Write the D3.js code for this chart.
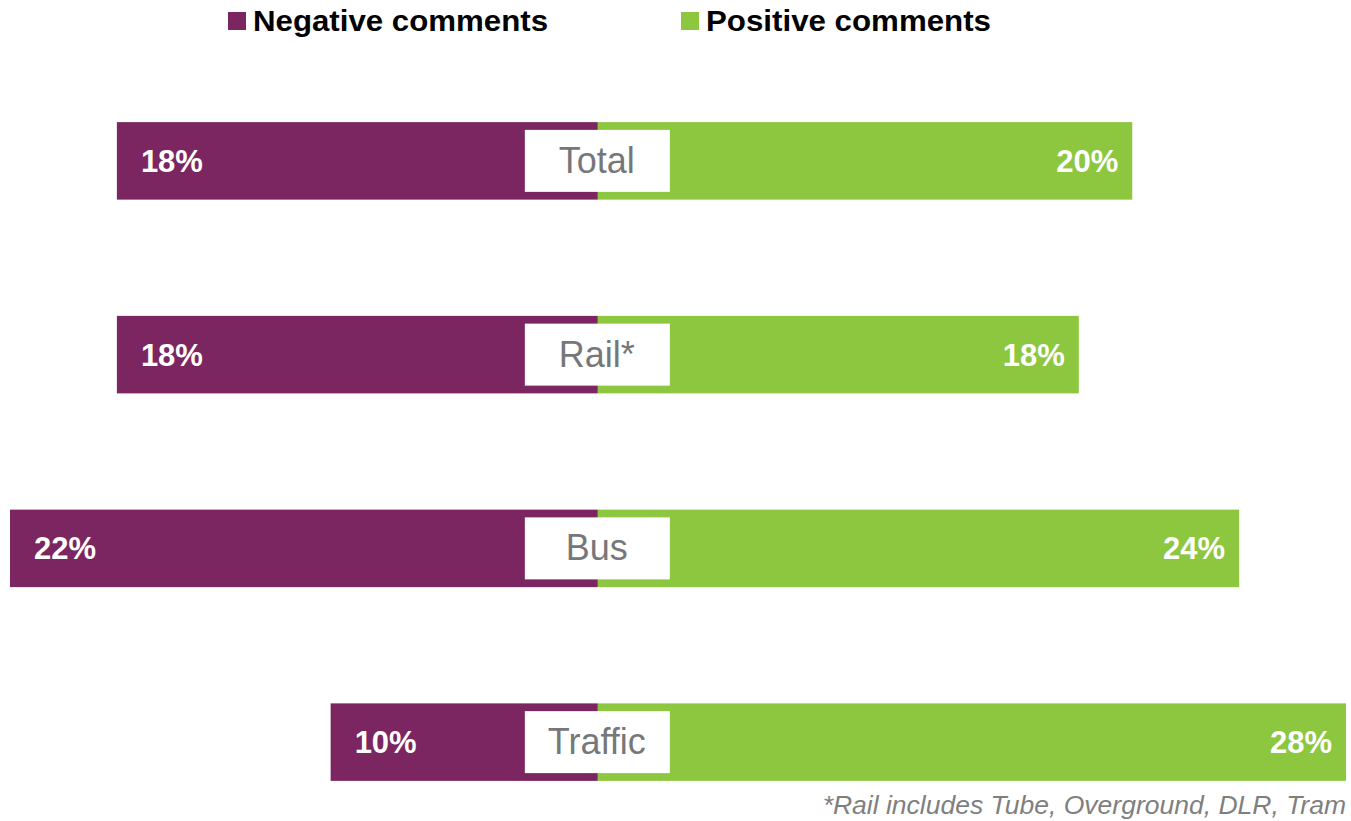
<!DOCTYPE html>
<html>
<head>
<meta charset="utf-8">
<script src="https://cdn.jsdelivr.net/npm/d3@7"></script>
<style>
  html, body { margin: 0; padding: 0; background: #fff; }
  svg { display: block; }
</style>
</head>
<body>
<svg id="chart" width="1351" height="821"></svg>
<script>
// Share of comments by mode
const categories = ["Total", "Rail*", "Bus", "Traffic"];
const negativeValues = [18, 18, 22, 10];
const positiveValues = [20, 18, 24, 28];
const seriesNames = ["Negative comments", "Positive comments"];
const footnote = "*Rail includes Tube, Overground, DLR, Tram";

const colors = { negative: "#7B2660", positive: "#8DC63F" };
const font = "'Liberation Sans', Arial, sans-serif";

const svg = d3.select("#chart");

// Diverging axis: negatives run left from zero, positives right
const x = d3.scaleLinear().domain([-22, 28]).range([10, 1346]);
const y = d3.scaleBand().domain(categories).range([64, 839]).paddingInner(0.6).paddingOuter(0.3);

const rows = categories.map((c, i) => ({ cat: c, neg: negativeValues[i], pos: positiveValues[i] }));

const g = svg.append("g");
const row = g.selectAll("g.row").data(rows).join("g").attr("class", "row");

row.append("rect")
  .attr("x", d => x(-d.neg))
  .attr("y", d => y(d.cat))
  .attr("width", d => x(0) - x(-d.neg))
  .attr("height", y.bandwidth())
  .attr("fill", colors.negative);

row.append("rect")
  .attr("x", x(0))
  .attr("y", d => y(d.cat))
  .attr("width", d => x(d.pos) - x(0))
  .attr("height", y.bandwidth())
  .attr("fill", colors.positive);

// Category label boxes over the zero line
const boxW = 145, boxH = 62;
row.append("rect")
  .attr("x", x(0) - 73)
  .attr("y", d => y(d.cat) + (y.bandwidth() - boxH) / 2)
  .attr("width", boxW)
  .attr("height", boxH)
  .attr("fill", "#fff");

row.append("text")
  .attr("x", x(0) - 1)
  .attr("y", d => y(d.cat) + y.bandwidth() / 2 + 12)
  .attr("text-anchor", "middle")
  .attr("font-family", font)
  .attr("font-size", 36)
  .attr("fill", "#76777a")
  .text(d => d.cat);

// Value labels
row.append("text")
  .attr("x", d => x(-d.neg) + 24)
  .attr("y", d => y(d.cat) + y.bandwidth() / 2 + 11)
  .attr("font-family", font)
  .attr("font-weight", "bold")
  .attr("font-size", 31)
  .attr("fill", "#fff")
  .text(d => d.neg + "%");

row.append("text")
  .attr("x", d => x(d.pos) - 14)
  .attr("y", d => y(d.cat) + y.bandwidth() / 2 + 11)
  .attr("text-anchor", "end")
  .attr("font-family", font)
  .attr("font-weight", "bold")
  .attr("font-size", 31)
  .attr("fill", "#fff")
  .text(d => d.pos + "%");

// Legend
const legendItems = [
  { name: seriesNames[0], color: colors.negative, x: 228, w: 295 },
  { name: seriesNames[1], color: colors.positive, x: 681, w: 285 }
];
const lg = svg.append("g").selectAll("g").data(legendItems).join("g")
  .attr("transform", d => `translate(${d.x},0)`);
lg.append("rect").attr("x", 0).attr("y", 12).attr("width", 18).attr("height", 18).attr("fill", d => d.color);
lg.append("text")
  .attr("x", 25).attr("y", 31)
  .attr("font-family", font)
  .attr("font-weight", "bold")
  .attr("font-size", 30)
  .attr("fill", "#000")
  .attr("textLength", d => d.w)
  .attr("lengthAdjust", "spacingAndGlyphs")
  .text(d => d.name);

// Footnote
svg.append("text")
  .attr("x", 1346).attr("y", 814)
  .attr("text-anchor", "end")
  .attr("font-family", font)
  .attr("font-style", "italic")
  .attr("font-size", 26.5)
  .attr("fill", "#7f7f7f")
  .text(footnote);
</script>
</body>
</html>
